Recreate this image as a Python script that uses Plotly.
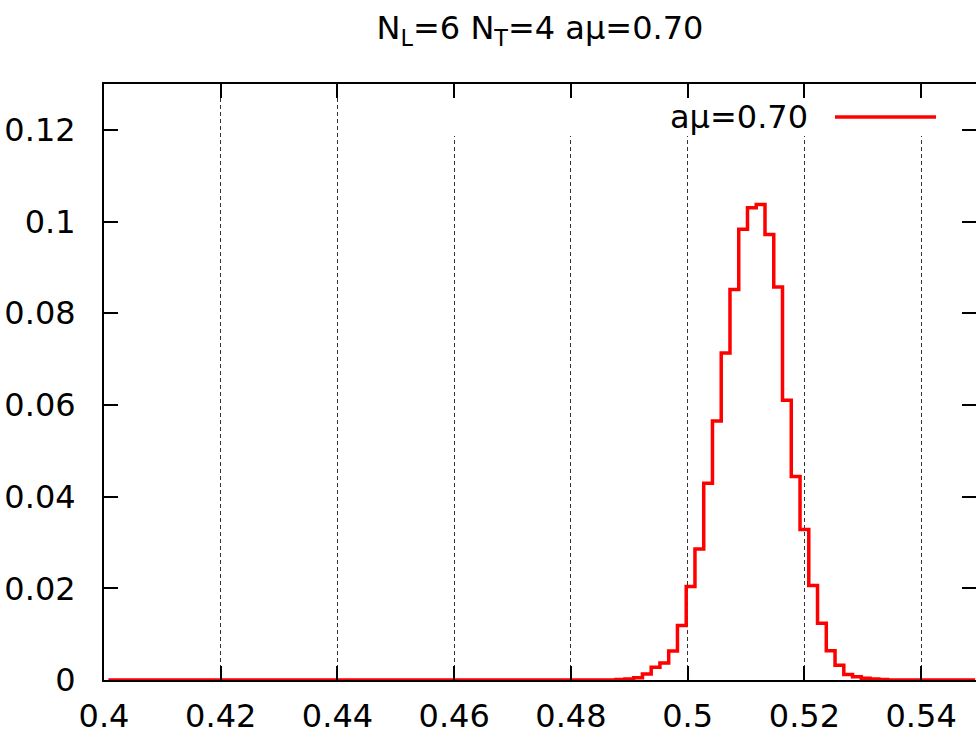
import plotly.graph_objects as go

# ---------------- data ----------------
title_text = "N<sub>L</sub>=6 N<sub>T</sub>=4 aμ=0.70"
series_name = "aμ=0.70"

bin_start = 0.4
bin_width = 0.0015
prob = [
    0.0, 0.0, 0.0, 0.0, 0.0, 0.0, 0.0, 0.0, 0.0, 0.0,
    0.0, 0.0, 0.0, 0.0, 0.0, 0.0, 0.0, 0.0, 0.0, 0.0,
    0.0, 0.0, 0.0, 0.0, 0.0, 0.0, 0.0, 0.0, 0.0, 0.0,
    0.0, 0.0, 0.0, 0.0, 0.0, 0.0, 0.0, 0.0, 0.0, 0.0,
    0.0, 0.0, 0.0, 0.0, 0.0, 0.0, 0.0, 0.0, 0.0, 0.0,
    0.0, 0.0, 0.0, 0.0, 0.0, 0.0, 0.0, 0.0, 0.0001, 0.0002,
    0.0005, 0.0013, 0.0028, 0.0037, 0.0063, 0.0119, 0.0204, 0.0286, 0.0429, 0.0565,
    0.0713, 0.0852, 0.0983, 0.1030, 0.1037, 0.0972, 0.0857, 0.0610, 0.0444, 0.0328,
    0.0206, 0.0124, 0.0064, 0.0032, 0.0012, 0.0007, 0.0004, 0.0002, 0.0001, 0.0,
    0.0, 0.0, 0.0, 0.0, 0.0, 0.0, 0.0, 0.0, 0.0, 0.0,
]

x_tick_vals = [0.40, 0.42, 0.44, 0.46, 0.48, 0.50, 0.52, 0.54]
x_tick_text = ["0.4", "0.42", "0.44", "0.46", "0.48", "0.5", "0.52", "0.54"]
y_tick_vals = [0.0, 0.02, 0.04, 0.06, 0.08, 0.10, 0.12]
y_tick_text = ["0", "0.02", "0.04", "0.06", "0.08", "0.1", "0.12"]

x_range = [0.4, 0.5494]
y_range = [0.0, 0.13]

# bin centres (step plot: each value holds from its centre to the next centre)
centres = [bin_start + (i + 0.5) * bin_width for i in range(len(prob))]

# ---------------- figure ----------------
W, H = 976, 731
ML, MR, MT, MB = 104, 0, 84, 51
FONT = "DejaVu Sans"
FS = 32

fig = go.Figure()
fig.add_trace(go.Scatter(
    x=centres, y=prob, mode="lines", name=series_name,
    line=dict(shape="hv", color="#ff0000", width=3.5),
    showlegend=False, hoverinfo="skip",
))
# empty helper trace so the right-hand tick axis is drawn
fig.add_trace(go.Scatter(x=[None], y=[None], yaxis="y2", mode="lines",
                         showlegend=False, hoverinfo="skip"))

pw = W - ML - MR
ph = H - MT - MB


def px_x(p):
    return (p - ML) / pw


def px_y(p):
    return (H - MB - p) / ph


fig.update_layout(
    template="none",
    width=W, height=H,
    margin=dict(l=ML, r=MR, t=MT, b=MB, pad=0),
    paper_bgcolor="white", plot_bgcolor="white",
    font=dict(family=FONT, size=FS, color="black"),
    showlegend=False,
    title=dict(text=title_text, x=0.5, xref="paper", xanchor="center",
               y=1 - 28 / H, yref="container", yanchor="middle",
               font=dict(family=FONT, size=FS, color="black")),
    xaxis=dict(
        range=x_range, autorange=False,
        tickmode="array", tickvals=x_tick_vals, ticktext=x_tick_text,
        ticks="inside", ticklen=14, tickwidth=2, tickcolor="black",
        showline=True, linewidth=2, linecolor="black", mirror="ticks",
        showgrid=True, gridcolor="#333333", gridwidth=1, griddash="4px,3px",
        zeroline=False, automargin=False, ticklabelstandoff=7,
        tickfont=dict(family=FONT, size=FS, color="black"),
    ),
    yaxis=dict(
        range=y_range, autorange=False,
        tickmode="array", tickvals=y_tick_vals, ticktext=y_tick_text,
        ticks="inside", ticklen=14, tickwidth=2, tickcolor="black",
        showline=True, linewidth=2, linecolor="black", mirror=False,
        showgrid=False, zeroline=False, automargin=False, ticklabelstandoff=20,
        tickfont=dict(family=FONT, size=FS, color="black"),
    ),
    yaxis2=dict(
        overlaying="y", side="right",
        range=y_range, autorange=False,
        tickmode="array", tickvals=y_tick_vals,
        ticks="inside", ticklen=14, tickwidth=2, tickcolor="black",
        showticklabels=False, showline=False, showgrid=False, zeroline=False,
        automargin=False,
    ),
)

# opaque key box, key text and key sample line
fig.add_shape(type="rect", xref="paper", yref="paper",
              x0=px_x(400), x1=px_x(945), y0=px_y(136), y1=px_y(98),
              fillcolor="white", line=dict(width=0), layer="above")
fig.add_shape(type="line", xref="paper", yref="paper",
              x0=px_x(835), x1=px_x(936), y0=px_y(117), y1=px_y(117),
              line=dict(color="#ff0000", width=3.5), layer="above")
fig.add_annotation(text=series_name, xref="paper", yref="paper",
                   x=px_x(810), y=px_y(117), xanchor="right", yanchor="middle",
                   showarrow=False, font=dict(family=FONT, size=FS, color="black"))

fig.write_html("out.html")
